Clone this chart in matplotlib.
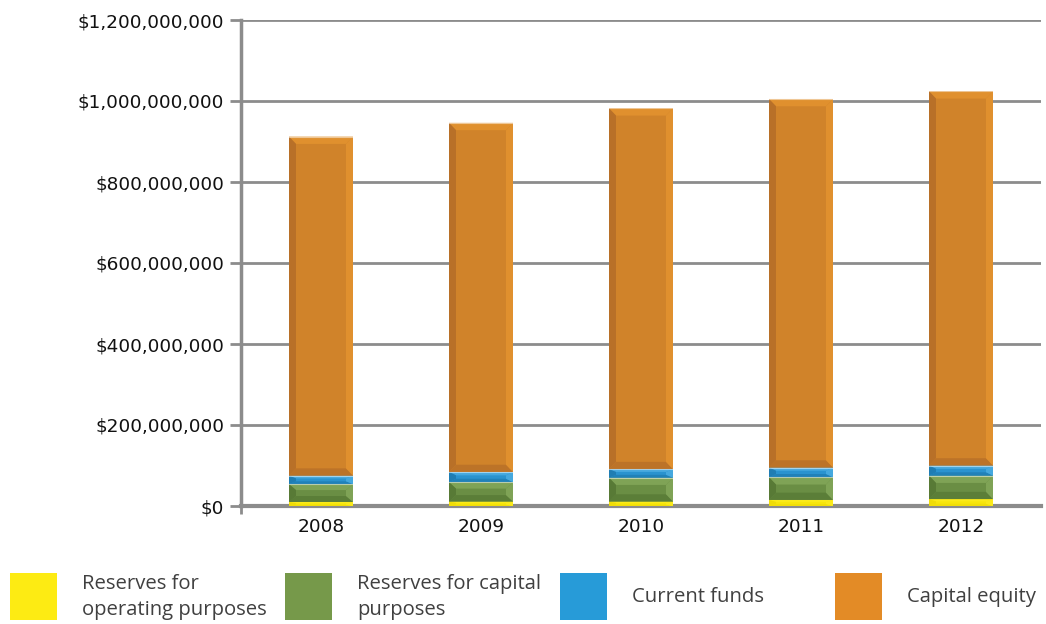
import matplotlib
matplotlib.use("Agg")
import matplotlib.pyplot as plt
from matplotlib.patches import Polygon, Rectangle
from matplotlib.ticker import FuncFormatter, MultipleLocator
import numpy as np

plt.rcParams["font.family"] = ["DejaVu Sans"]

years = ["2008", "2009", "2010", "2011", "2012"]
series_names = ["Reserves for\noperating purposes", "Reserves for capital\npurposes",
                "Current funds", "Capital equity"]
operating = [10e6, 11e6, 11e6, 15e6, 17e6]
capital_reserves = [44e6, 48e6, 59e6, 56e6, 58e6]
current_funds = [21e6, 25e6, 21e6, 24e6, 25e6]
capital_equity = [837e6, 862e6, 891e6, 910e6, 924e6]

# base colour, light bevel, dark bevel
face_colors = ["#F8E60C", "#6A8E44", "#2A93CF", "#D0832A"]
light_colors = ["#FBEA1A", "#7FA356", "#45A8DE", "#E0902E"]
dark_colors = ["#F0DC08", "#587A36", "#1F7DB3", "#B87028"]
legend_colors = ["#FDEB13", "#76994A", "#279BD8", "#E38B26"]

fig = plt.figure(figsize=(10.46, 6.24), dpi=100)
ax = fig.add_axes([241 / 1046, 118 / 624, 800 / 1046, 486 / 624])

x = np.arange(len(years))
width = 0.4
stack = [operating, capital_reserves, current_funds, capital_equity]
bottoms = np.zeros(len(years))
dx_full = 7 / 160
dy_full = 18e6

for k, vals in enumerate(stack):
    vals = np.array(vals)
    ax.bar(x, vals, width, bottom=bottoms, color=face_colors[k], linewidth=0, zorder=2)
    for i in range(len(years)):
        x0, x1 = x[i] - width / 2, x[i] + width / 2
        y0, y1 = bottoms[i], bottoms[i] + vals[i]
        dy = min(dy_full, (y1 - y0) / 3)
        dx = dx_full
        top = [(x0, y1), (x1, y1), (x1 - dx, y1 - dy), (x0 + dx, y1 - dy)]
        bot = [(x0, y0), (x1, y0), (x1 - dx, y0 + dy), (x0 + dx, y0 + dy)]
        left = [(x0, y0), (x0, y1), (x0 + dx, y1 - dy), (x0 + dx, y0 + dy)]
        right = [(x1, y0), (x1, y1), (x1 - dx, y1 - dy), (x1 - dx, y0 + dy)]
        ax.add_patch(Polygon(bot, closed=True, color=dark_colors[k], lw=0, zorder=3, alpha=0.8))
        ax.add_patch(Polygon(top, closed=True, color=light_colors[k], lw=0, zorder=3))
        ax.add_patch(Polygon(left, closed=True, color=dark_colors[k], lw=0, zorder=3))
        ax.add_patch(Polygon(right, closed=True, color=light_colors[k], lw=0, zorder=3))
        if k > 0:
            ax.plot([x0, x1], [y1, y1], color="white", lw=0.8, alpha=0.5, zorder=4)
    bottoms = bottoms + vals

ax.set_xlim(-0.5, len(years) - 0.5)
ax.set_ylim(0, 1.2e9)
ax.yaxis.set_major_locator(MultipleLocator(2e8))
ax.yaxis.set_major_formatter(FuncFormatter(lambda v, p: "${:,.0f}".format(v)))
ax.set_xticks(x)
ax.set_xticklabels(years)
ax.set_xticks([-0.5], minor=True)

grid_c = "#8C8C8C"
ax.yaxis.grid(True, color=grid_c, lw=2, zorder=1)
ax.set_axisbelow(True)
for s in ["top", "right"]:
    ax.spines[s].set_visible(False)
ax.spines["left"].set_color(grid_c)
ax.spines["left"].set_linewidth(2.5)
ax.spines["bottom"].set_color(grid_c)
ax.spines["bottom"].set_linewidth(3)
ax.spines["bottom"].set_zorder(1.5)
ax.tick_params(axis="y", length=8, width=2, color=grid_c, labelsize=13.3, pad=4, labelcolor="#111111")
ax.tick_params(axis="x", which="major", length=0, labelsize=13.3, pad=9, labelcolor="#111111")
ax.tick_params(axis="x", which="minor", length=6, width=2, color=grid_c)

# legend row below the chart
sq = 47
for k, name in enumerate(series_names):
    sx = 10 + k * 275
    fig.patches.append(Rectangle((sx / 1046, (624 - 620) / 624), sq / 1046, sq / 624,
                                 transform=fig.transFigure, color=legend_colors[k], lw=0))
    fig.text((sx + 72) / 1046, (624 - 597) / 624, name, ha="left", va="center",
             fontsize=14.6, family="Open Sans", color="#404040", linespacing=1.45)

fig.savefig("out.png", dpi=100)
